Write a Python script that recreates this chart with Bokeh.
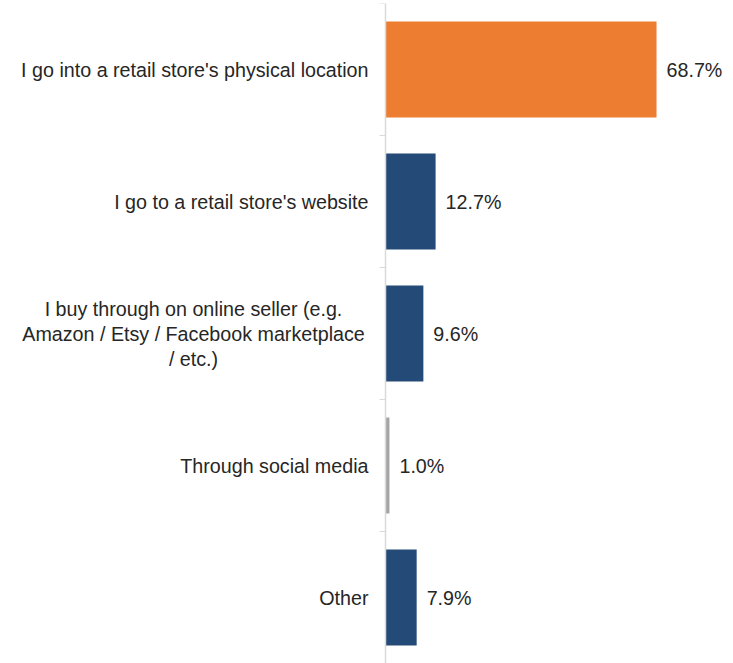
from bokeh.plotting import figure
from bokeh.models import Range1d, LinearAxis, FixedTicker, ColumnDataSource, LabelSet
from bokeh.core.properties import value
from bokeh.embed import file_html
from bokeh.resources import INLINE

categories = [
    "I go into a retail store's physical location",
    "I go to a retail store's website",
    "I buy through on online seller (e.g.\nAmazon / Etsy / Facebook marketplace\n/ etc.)",
    "Through social media",
    "Other",
]
values = [68.7, 12.7, 9.6, 1.0, 7.9]
value_labels = ["68.7%", "12.7%", "9.6%", "1.0%", "7.9%"]
colors = ["#ED7D31", "#244A77", "#244A77", "#A5A5A5", "#244A77"]

FONT = "Liberation Sans"
FS = "19.7px"
TXT = "#262626"
LINE_GAP = 25

pos = [i + 0.5 for i in range(len(categories))]
src = ColumnDataSource(dict(y=pos, v=values, lab=value_labels, c=colors))

W, H = 733, 663
left = 385
px_per_unit = 3.945
x_start = -left / px_per_unit
x_end = (W - left) / px_per_unit

p = figure(width=W, height=H, output_backend="svg", toolbar_location=None,
           x_range=Range1d(x_start, x_end), y_range=Range1d(len(categories), 0),
           x_axis_location=None, y_axis_location=None,
           min_border_left=0, min_border_right=0, min_border_top=3, min_border_bottom=0)
p.outline_line_color = None
p.xgrid.visible = False
p.ygrid.visible = False
p.background_fill_color = "white"
p.border_fill_color = "white"

p.hbar(y="y", right="v", left=0, height=0.727, color="c", source=src, line_color=None)

labels = LabelSet(x="v", y="y", text="lab", source=src, x_offset=10, y_offset=0,
                  text_baseline="middle", text_align="left",
                  text_font=value(FONT), text_font_size=FS, text_color=TXT)
p.add_layout(labels)

# category labels: single-line ones right-aligned, the wrapped one centred line by line
single = [i for i, c in enumerate(categories) if "\n" not in c]
cat_src = ColumnDataSource(dict(x=[0] * len(single), y=[pos[i] for i in single],
                                t=[categories[i] for i in single]))
p.add_layout(LabelSet(x="x", y="y", text="t", source=cat_src, x_offset=-17,
                      text_baseline="middle", text_align="right",
                      text_font=value(FONT), text_font_size=FS, text_color=TXT))

ml_x, ml_y, ml_t, ml_off = [], [], [], []
for i, c in enumerate(categories):
    if "\n" in c:
        parts = c.split("\n")
        n = len(parts)
        for k, part in enumerate(parts):
            ml_x.append(0)
            ml_y.append(pos[i])
            ml_t.append(part)
            ml_off.append(((n - 1) / 2 - k) * LINE_GAP)
multi_src = ColumnDataSource(dict(x=ml_x, y=ml_y, t=ml_t, off=ml_off))
p.add_layout(LabelSet(x="x", y="y", text="t", source=multi_src, x_offset=-192, y_offset="off",
                      text_baseline="middle", text_align="center",
                      text_font=value(FONT), text_font_size=FS, text_color=TXT))

ax = LinearAxis(fixed_location=0,
                ticker=FixedTicker(ticks=pos, minor_ticks=list(range(len(categories) + 1))))
ax.major_label_overrides = {pos[i]: "" for i in range(len(categories))}
ax.major_label_text_font_size = "0px"
ax.major_tick_out = 0
ax.major_tick_in = 0
ax.minor_tick_out = 6
ax.minor_tick_in = 0
ax.minor_tick_line_color = "#D9D9D9"
ax.axis_line_color = "#D9D9D9"
ax.axis_line_width = 1.5
p.add_layout(ax, "left")

open("out.html", "w").write(file_html(p, INLINE))
